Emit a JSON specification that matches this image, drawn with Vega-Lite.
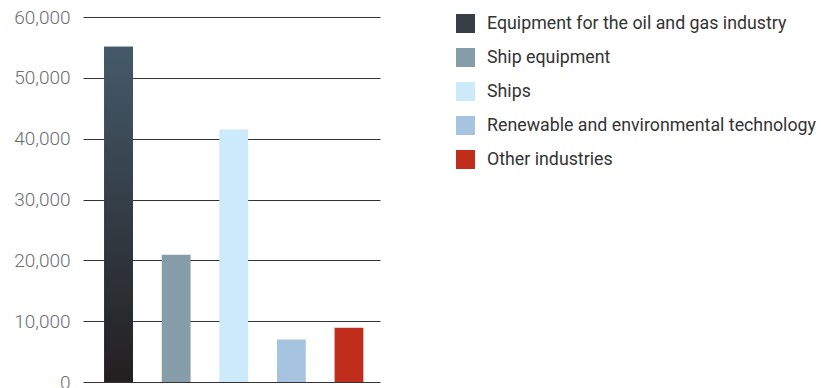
{
  "$schema": "https://vega.github.io/schema/vega-lite/v6.json",
  "autosize": {"type": "none"},
  "padding": {"left": 83, "top": 17, "right": 441, "bottom": 6},
  "width": 297,
  "height": 365,
  "background": "white",
  "config": {"view": {"stroke": null}, "font": "Roboto"},
  "data": {
    "values": [
      {"category": "Equipment for the oil and gas industry", "value": 55100},
      {"category": "Ship equipment", "value": 20900},
      {"category": "Ships", "value": 41500},
      {"category": "Renewable and environmental technology", "value": 7000},
      {"category": "Other industries", "value": 8900}
    ]
  },
  "encoding": {
    "x": {
      "field": "category", "type": "nominal", "sort": null,
      "scale": {"paddingInner": 0.5, "paddingOuter": 0.328, "align": 0.56},
      "axis": null
    },
    "y": {
      "field": "value", "type": "quantitative",
      "scale": {"domain": [0, 60000]},
      "axis": {
        "title": null, "values": [0, 10000, 20000, 30000, 40000, 50000, 60000],
        "format": ",d", "domain": false, "ticks": false, "labelOverlap": false,
        "labelFontSize": 19, "labelColor": "#6d6e71", "labelPadding": 13, "labelFont": "Roboto", "labelFontWeight": 300,
        "gridColor": "#333333", "gridWidth": 1, "gridOpacity": 1
      }
    }
  },
  "layer": [
    {
      "mark": {"type": "bar"},
      "encoding": {
        "color": {
          "field": "category", "type": "nominal", "sort": null,
          "scale": {
            "domain": ["Equipment for the oil and gas industry", "Ship equipment", "Ships", "Renewable and environmental technology", "Other industries"],
            "range": ["#383e45", "#879da9", "#cceaf9", "#a6c4e0", "#c12d1b"]
          },
          "legend": {
            "title": null, "orient": "none", "legendX": 373, "legendY": -3,
            "symbolType": "square", "symbolSize": 361, "symbolStrokeWidth": 0, "symbolOpacity": 1,
            "labelFontSize": 17.8, "labelColor": "#333333", "labelFont": "Roboto",
            "labelOffset": 12, "rowPadding": 15, "labelLimit": 400
          }
        }
      }
    },
    {
      "transform": [{"filter": "datum.category === 'Equipment for the oil and gas industry'"}],
      "mark": {
        "type": "bar",
        "color": {
          "gradient": "linear", "x1": 0, "y1": 0, "x2": 0, "y2": 1,
          "stops": [{"offset": 0, "color": "#445a6a"}, {"offset": 1, "color": "#231f20"}]
        }
      }
    }
  ]
}
